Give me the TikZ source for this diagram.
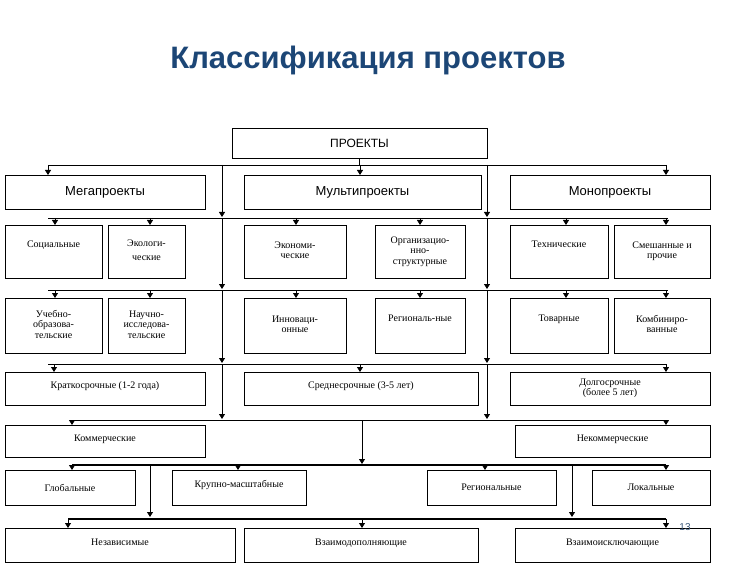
\documentclass[tikz,border=0pt]{standalone}
\usepackage{fontspec}
\setmainfont{Liberation Serif}
\newfontfamily\hsans{Liberation Sans}
\usetikzlibrary{arrows.meta}
\definecolor{ttl}{RGB}{28,70,118}
\newcommand\bx[6]{%
  \pgfmathsetmacro\bw{#4-#2}\pgfmathsetmacro\bh{#5-#3}%
  \node[box,minimum width=\bw pt,minimum height=\bh pt] (#1) at ({(#2+#4)/2},{(#3+#5)/2}) {#6};}
\newcommand\tb[2]{\raisebox{#1}{\begin{tabular}{@{}c@{}}#2\end{tabular}}}
\begin{document}
\begin{tikzpicture}[x=1pt,y=-1pt,
  box/.style={draw,line width=0.7pt,inner sep=1pt,align=center,font=\fontsize{10}{10.5}\selectfont,anchor=center},
  arr/.style={line width=0.9pt,-{Triangle[length=5pt,width=6pt]}},
  bus/.style={line width=0.9pt},
  thk/.style={line width=1.8pt}]
\useasboundingbox (0,0) rectangle (737,567);
\node[font=\hsans\bfseries\fontsize{31}{34}\selectfont,text=ttl] (title) at (368,60) {Классификация проектов};
\bx{pr}{232}{128}{487}{158}{\hsans\fontsize{12}{14}\selectfont ПРОЕКТЫ}
\bx{meg}{5}{175}{205}{209}{\hsans\fontsize{13}{14}\selectfont Мегапроекты}
\bx{mul}{244}{175}{481}{209}{\hsans\fontsize{13}{14}\selectfont Мультипроекты}
\bx{mon}{510}{175}{710}{209}{\hsans\fontsize{13}{14}\selectfont Монопроекты}
% row2
\bx{a1}{5}{225}{102}{278}{\tb{14pt}{Социальные}}
\bx{a2}{108}{225}{185}{278}{\tb{0pt}{Экологи-\\[4pt]ческие}}
\bx{a3}{244}{225}{346}{278}{\tb{8pt}{Экономи-\\ческие}}
\bx{a4}{375}{225}{465}{278}{\tb{0pt}{Организацио-\\нно-\\структурные}}
\bx{a5}{510}{225}{608}{278}{\tb{14pt}{Технические}}
\bx{a6}{614}{225}{710}{278}{\tb{8pt}{Смешанные и\\прочие}}
% row3
\bx{c1}{5}{298}{102}{353}{\tb{0pt}{Учебно-\\образова-\\тельские}}
\bx{c2}{108}{298}{185}{353}{\tb{0pt}{Научно-\\исследова-\\тельские}}
\bx{c3}{244}{298}{346}{353}{\tb{8pt}{Инноваци-\\онные}}
\bx{c4}{375}{298}{465}{353}{\tb{14pt}{Региональ-ные}}
\bx{c5}{510}{298}{608}{353}{\tb{14pt}{Товарные}}
\bx{c6}{614}{298}{710}{353}{\tb{8pt}{Комбиниро-\\ванные}}
% row4
\bx{d1}{5}{372}{205}{405}{\tb{6pt}{Краткосрочные (1-2 года)}}
\bx{d2}{244}{372}{478}{405}{\tb{6pt}{Среднесрочные (3-5 лет)}}
\bx{d3}{510}{372}{710}{405}{\tb{0pt}{Долгосрочные\\(более 5 лет)}}
% row5
\bx{e1}{5}{425}{205}{457}{\tb{6pt}{Коммерческие}}
\bx{e2}{515}{425}{710}{457}{\tb{6pt}{Некоммерческие}}
% row6
\bx{f1}{5}{470}{135}{505}{Глобальные}
\bx{f2}{172}{470}{306}{505}{\tb{6pt}{Крупно-масштабные}}
\bx{f3}{427}{470}{556}{505}{Региональные}
\bx{f4}{592}{470}{710}{505}{Локальные}
% row7
\bx{g1}{5}{528}{235}{562}{\tb{6pt}{Независимые}}
\bx{g2}{244}{528}{478}{562}{\tb{6pt}{Взаимодополняющие}}
\bx{g3}{515}{528}{710}{562}{\tb{6pt}{Взаимоисключающие}}
\node[font=\hsans\fontsize{10}{10}\selectfont,text=ttl!70!gray] (pg) at (685,527) {13};
% buses
\coordinate (b0) at (360,165);
\draw[bus] (48,165) -- (666,165);
\draw[bus] (pr.south) -- (pr.south |- b0);
\foreach \x in {48,360,666}{\draw[arr] (\x,165) -- (\x,175);}
\draw[bus] (48,218) -- (668,218);
\foreach \x in {55,150,296,420,566,666}{\draw[arr] (\x,218) -- (\x,225);}
\draw[bus] (48,290) -- (668,290);
\foreach \x in {55,150,296,420,566,666}{\draw[arr] (\x,290) -- (\x,298);}
\draw[bus] (48,364) -- (666,364);
\foreach \x in {54,360,666}{\draw[arr] (\x,364) -- (\x,372);}
% long verticals
\foreach \x in {222,487}{
  \draw[arr] (\x,165) -- (\x,217);
  \draw[arr] (\x,218) -- (\x,289);
  \draw[arr] (\x,290) -- (\x,363);
  \draw[arr] (\x,364) -- (\x,419);}
\draw[bus] (72,420) -- (666,420);
\foreach \x in {72,666}{\draw[arr] (\x,420) -- (\x,425);}
\draw[arr] (362,420) -- (362,464);
\draw[thk] (72,465) -- (666,465);
\foreach \x in {72,238,485,666}{\draw[arr] (\x,465) -- (\x,470);}
\draw[arr] (150,465) -- (150,517);
\draw[arr] (572,465) -- (572,517);
\draw[thk] (68,519) -- (666,519);
\foreach \x in {68,362,666}{\draw[arr] (\x,519) -- (\x,528);}
\end{tikzpicture}
\end{document}
